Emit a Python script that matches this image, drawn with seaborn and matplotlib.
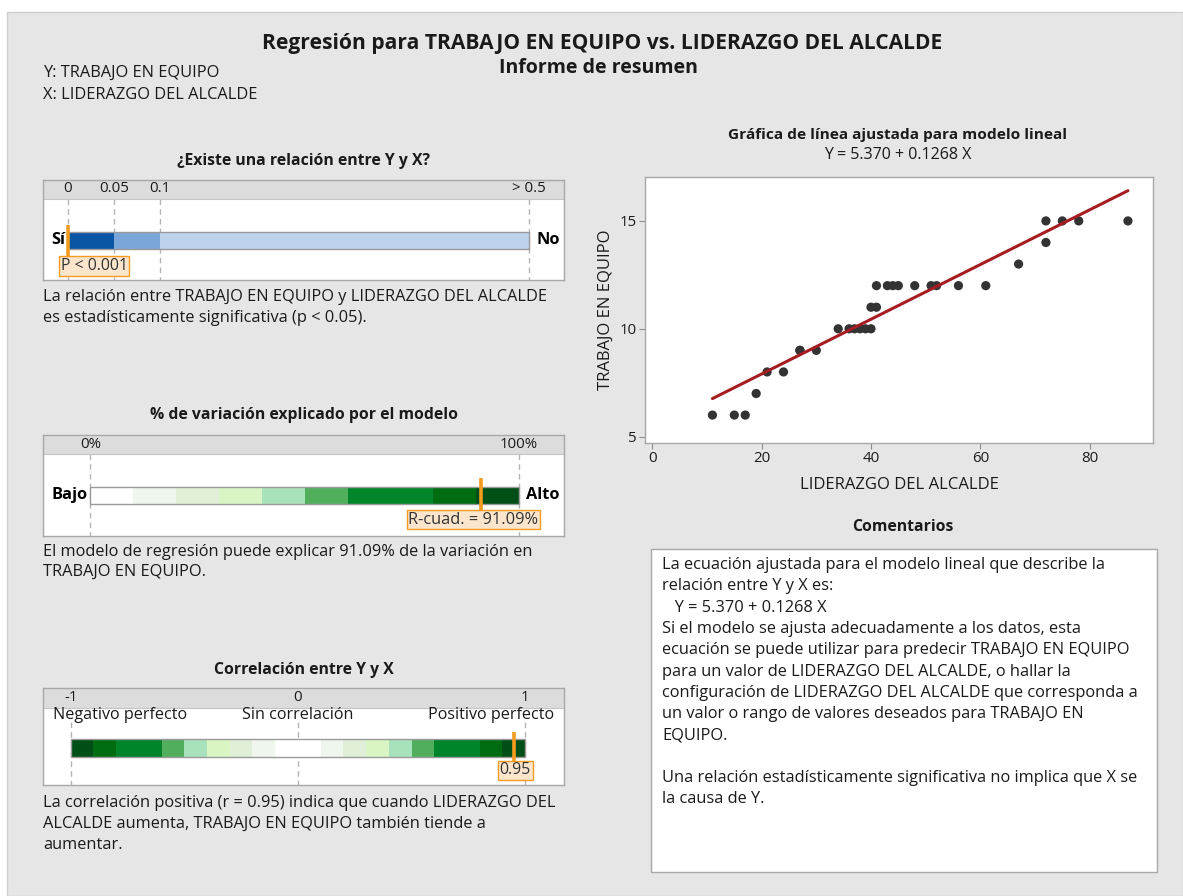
import numpy as np
import matplotlib
matplotlib.use("Agg")
import matplotlib.pyplot as plt
import seaborn as sns
from matplotlib.patches import Rectangle

sns.set_theme(style="white")
plt.rcParams['font.family'] = ['Open Sans', 'DejaVu Sans']

# ---------------- data ----------------
lider = [11, 15, 17, 19, 21, 24, 27, 27, 30, 34, 36, 37, 38, 39, 40, 40, 41,
         41, 43, 44, 45, 48, 51, 52, 56, 61, 67, 72, 72, 75, 78, 87]
trabajo = [6, 6, 6, 7, 8, 8, 9, 9, 9, 10, 10, 10, 10, 10, 10, 11, 11,
           12, 12, 12, 12, 12, 12, 12, 12, 12, 13, 14, 15, 15, 15, 15]
intercept, slope = 5.370, 0.1268

p_edges = [0, 0.05, 0.1, 0.5]
p_colors = ['#0b56a4', '#7ba6d9', '#bdd2eb']
p_ticks = [0, 0.05, 0.1, 0.5]
p_ticklabels = ['0', '0.05', '0.1', '> 0.5']
p_value = 0.0005
p_label = 'P < 0.001'

r2_edges = [0, 10, 20, 30, 40, 50, 60, 80, 90, 100]
r2_colors = ['#ffffff', '#eff6ed', '#e0efd7', '#d9f5c3', '#a8e2bd',
             '#51ae5d', '#00852a', '#006c12', '#004f17']
r2_ticks = [0, 100]
r2_ticklabels = ['0%', '100%']
r2_value = 91.09
r2_label = 'R-cuad. = 91.09%'

corr_edges = [-1, -0.9, -0.8, -0.6, -0.5, -0.4, -0.3, -0.2, -0.1, 0.1,
              0.2, 0.3, 0.4, 0.5, 0.6, 0.8, 0.9, 1]
corr_colors = ['#004f17', '#006c12', '#00852a', '#51ae5d', '#a8e2bd', '#d9f5c3',
               '#e0efd7', '#eff6ed', '#ffffff', '#eff6ed', '#e0efd7', '#d9f5c3',
               '#a8e2bd', '#51ae5d', '#00852a', '#006c12', '#004f17']
corr_ticks = [-1, 0, 1]
corr_ticklabels = ['-1', '0', '1']
corr_desc = ['Negativo perfecto', 'Sin correlación', 'Positivo perfecto']
corr_value = 0.95
corr_label = '0.95'

comment_lines = [
    "La ecuación ajustada para el modelo lineal que describe la",
    "relación entre Y y X es:",
    "   Y = 5.370 + 0.1268 X",
    "Si el modelo se ajusta adecuadamente a los datos, esta",
    "ecuación se puede utilizar para predecir TRABAJO EN EQUIPO",
    "para un valor de LIDERAZGO DEL ALCALDE, o hallar la",
    "configuración de LIDERAZGO DEL ALCALDE que corresponda a",
    "un valor o rango de valores deseados para TRABAJO EN",
    "EQUIPO.",
    "",
    "Una relación estadísticamente significativa no implica que X se",
    "la causa de Y.",
]

# ---------------- layout ----------------
W, H = 1183, 896
BG = '#e6e6e6'
HEADER = '#dcdcdc'
BORDER = '#a8a8a8'
ORANGE = '#f39c1f'
TXT = '#1a1a1a'
FS = 11.8

fig = plt.figure(figsize=(W / 100, H / 100), dpi=100, facecolor='white')

bg = fig.add_axes([0, 0, 1, 1])
bg.set_xlim(0, W)
bg.set_ylim(H, 0)
bg.axis('off')
bg.add_patch(Rectangle((7, 12), W - 7, H - 12, facecolor=BG, edgecolor='#cfcfcf', lw=1))


def px_axes(x0, y0, x1, y1):
    return fig.add_axes([x0 / W, 1 - y1 / H, (x1 - x0) / W, (y1 - y0) / H])


bg.text(602, 43, "Regresión para TRABAJO EN EQUIPO vs. LIDERAZGO DEL ALCALDE",
        ha='center', va='center', fontsize=15.1, fontweight='bold', color=TXT)
bg.text(598, 68, "Informe de resumen", ha='center', va='center', fontsize=14,
        fontweight='bold', color=TXT)
bg.text(43, 73, "Y: TRABAJO EN EQUIPO", ha='left', va='center', fontsize=FS, color=TXT)
bg.text(43, 95, "X: LIDERAZGO DEL ALCALDE", ha='left', va='center', fontsize=FS, color=TXT)


def gauge(box, header_bottom, v0px, v1px, v0, v1, edges, colors, bar_y,
          ticks, ticklabels, tick_y, dash_top, marker, marker_y, label, label_x, label_y,
          label_fs, left_txt=None, right_txt=None, side_y=None, left_px=None, right_px=None):
    x0, y0, x1, y1 = box
    ax = px_axes(x0, y0, x1, y1)
    scale = (v1px - v0px) / (v1 - v0)

    def p2v(px):
        return v0 + (px - v0px) / scale

    ax.set_xlim(p2v(x0), p2v(x1))
    ax.set_ylim(y1, y0)
    ax.set_facecolor('white')
    for s in ax.spines.values():
        s.set_color(BORDER)
        s.set_linewidth(1)
    ax.set_xticks([])
    ax.set_yticks([])
    ax.axhspan(y0, header_bottom, color=HEADER, lw=0, zorder=0)
    ax.axhline(header_bottom, color='#c4c4c4', lw=0.8)
    for t, tl in zip(ticks, ticklabels):
        ax.text(t, tick_y, tl, ha='center', va='center', fontsize=10.8, color=TXT)
        ax.plot([t, t], [dash_top, y1], color='#b4b4b4', lw=1, ls=(0, (4, 3)), zorder=1)
    e = np.asarray(edges, dtype=float)
    ax.barh((bar_y[0] + bar_y[1]) / 2, np.diff(e), left=e[:-1],
            height=bar_y[1] - bar_y[0], color=colors, edgecolor='none', zorder=2)
    ax.add_patch(Rectangle((e[0], bar_y[0]), e[-1] - e[0], bar_y[1] - bar_y[0],
                           facecolor='none', edgecolor='#9a9a9a', lw=1, zorder=3))
    ax.plot([marker, marker], marker_y, color=ORANGE, lw=2.6, solid_capstyle='butt', zorder=4)
    ax.text(p2v(label_x), label_y, label, ha='center', va='center', fontsize=label_fs,
            color='#333333', zorder=5,
            bbox=dict(boxstyle='square,pad=0.1', fc='#fbe5cd', ec=ORANGE, lw=1))
    if left_txt:
        ax.text(p2v(left_px), side_y, left_txt, ha='right', va='center', fontsize=FS,
                fontweight='bold', color='black')
        ax.text(p2v(right_px), side_y, right_txt, ha='left', va='center', fontsize=FS,
                fontweight='bold', color='black')
    return ax, p2v


# Panel 1 : p-value
bg.text(304, 161, "¿Existe una relación entre Y y X?", ha='center', va='center',
        fontsize=11.3, fontweight='bold', color=TXT)
gauge((43, 180, 563.7, 280), 199.5, 68, 529.3, 0.0, 0.5, p_edges, p_colors,
      (231.7, 249.3), p_ticks, p_ticklabels, 189, 199.5, p_value, (225, 257),
      p_label, 94, 266, 11.4, 'Sí', 'No', 240.5, 65, 536)
bg.text(43, 297, "La relación entre TRABAJO EN EQUIPO y LIDERAZGO DEL ALCALDE",
        ha='left', va='center', fontsize=FS, color=TXT)
bg.text(43, 318, "es estadísticamente significativa (p < 0.05).",
        ha='left', va='center', fontsize=FS, color=TXT)

# Panel 2 : R-squared
bg.text(304, 415, "% de variación explicado por el modelo", ha='center', va='center',
        fontsize=11.3, fontweight='bold', color=TXT)
gauge((43, 435, 563.7, 535.7), 454, 90.3, 519, 0, 100, r2_edges, r2_colors,
      (486.7, 504), r2_ticks, r2_ticklabels, 444, 454, r2_value, (478, 513),
      r2_label, 473.5, 519.5, 11.8, 'Bajo', 'Alto', 495.3, 88, 526)
bg.text(43, 552, "El modelo de regresión puede explicar 91.09% de la variación en",
        ha='left', va='center', fontsize=FS, color=TXT)
bg.text(43, 572, "TRABAJO EN EQUIPO.", ha='left', va='center', fontsize=FS, color=TXT)

# Panel 3 : correlation
bg.text(304, 670, "Correlación entre Y y X", ha='center', va='center',
        fontsize=11.3, fontweight='bold', color=TXT)
ax3, p2v3 = gauge((43, 688.3, 563.7, 785), 708.3, 70.6, 525.2, -1, 1, corr_edges,
                  corr_colors, (739, 756.7), corr_ticks, corr_ticklabels, 697.7, 722,
                  corr_value, (732, 762), corr_label, 1409.5 / 2.904 + 30, 770.5, 11.4)
for px, d in zip([120.3, 297.8, 491.1], corr_desc):
    ax3.text(p2v3(px), 715, d, ha='center', va='center', fontsize=11.6, color=TXT, zorder=6)
for i, line in enumerate(["La correlación positiva (r = 0.95) indica que cuando LIDERAZGO DEL",
                          "ALCALDE aumenta, TRABAJO EN EQUIPO también tiende a",
                          "aumentar."]):
    bg.text(43, 803 + 21 * i, line, ha='left', va='center', fontsize=FS, color=TXT)

# ---------------- scatter with fitted line ----------------
bg.text(898, 135, "Gráfica de línea ajustada para modelo lineal", ha='center',
        va='center', fontsize=11.1, fontweight='bold', color=TXT)
bg.text(898, 155, "Y = 5.370 + 0.1268 X", ha='center', va='center', fontsize=11.5, color=TXT)
axs = px_axes(644.8, 176.7, 1153.1, 442.7)
axs.set_facecolor('white')
sns.scatterplot(x=lider, y=trabajo, color='#333333', s=44, edgecolor='none',
                ax=axs, zorder=3)
fit_x = np.array([min(lider), max(lider)], dtype=float)
sns.lineplot(x=fit_x, y=intercept + slope * fit_x, color='#a51d22', lw=2.2, ax=axs, zorder=4)
axs.set_xlim(-1.37, 91.6)
axs.set_ylim(4.72, 17.05)
axs.set_xticks([0, 20, 40, 60, 80])
axs.set_yticks([5, 10, 15])
axs.tick_params(axis='both', which='both', direction='out', length=4, width=0.8,
                color='#8c8c8c', labelsize=10.8, labelcolor=TXT, pad=2,
                bottom=True, left=True)
for s in axs.spines.values():
    s.set_color(BORDER)
    s.set_linewidth(1)
axs.set_xlabel("LIDERAZGO DEL ALCALDE", fontsize=12, color=TXT, labelpad=8)
axs.set_ylabel("TRABAJO EN EQUIPO", fontsize=12, color=TXT, labelpad=4)

# ---------------- comments ----------------
bg.text(903, 527, "Comentarios", ha='center', va='center', fontsize=11.3,
        fontweight='bold', color=TXT)
bg.add_patch(Rectangle((650.7, 549.3), 1157.3 - 650.7, 872.3 - 549.3,
                       facecolor='white', edgecolor=BORDER, lw=1))
for i, line in enumerate(comment_lines):
    bg.text(662, 565 + 21.3 * i, line, ha='left', va='center', fontsize=FS, color=TXT)

fig.savefig("out.png", dpi=100, facecolor=fig.get_facecolor())
